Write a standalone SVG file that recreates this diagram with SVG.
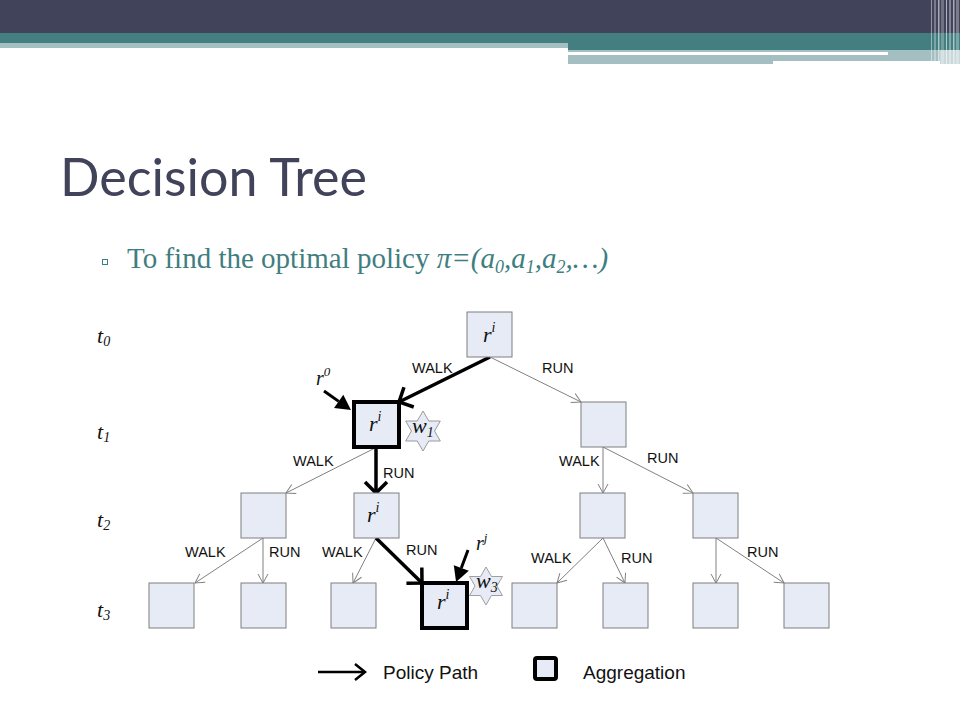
<svg xmlns="http://www.w3.org/2000/svg" width="960" height="720" viewBox="0 0 960 720">
<style>
.box{fill:#e6ebf5;stroke:#7f7f7f;stroke-width:1}
.bold{fill:#e6ebf5;stroke:#000;stroke-width:4}
.thin{stroke:#808080;stroke-width:1;fill:none;marker-end:url(#ah)}
.thick{stroke:#000;stroke-width:3.5;fill:none;marker-end:url(#bh)}
.ptr{stroke:#000;stroke-width:3;fill:none;marker-end:url(#fh)}
.lbl{font-family:"Liberation Sans",Arial,sans-serif;font-size:14.5px;fill:#111}
.math{font-family:"Liberation Serif","Times New Roman",serif;font-style:italic;fill:#111}
.star{fill:#e6ebf5;stroke:#9a9a9a;stroke-width:1}
.leg{font-family:"Liberation Sans",Arial,sans-serif;font-size:19px;fill:#111}
.stl{fill:#ffffff}
</style>
<defs>
<marker id="ah" markerUnits="userSpaceOnUse" viewBox="-12 -8 14 16" refX="0" refY="0" markerWidth="14" markerHeight="16" orient="auto" overflow="visible"><path d="M-9,-5 L0,0 L-9,5" fill="none" stroke="#808080" stroke-width="1"/></marker>
<marker id="bh" markerUnits="userSpaceOnUse" viewBox="-14 -14 16 28" refX="0" refY="0" markerWidth="16" markerHeight="28" orient="auto" overflow="visible"><path d="M-11,-11 L0,0 L-11,11" fill="none" stroke="#000" stroke-width="3.5"/></marker>
<marker id="fh" markerUnits="userSpaceOnUse" viewBox="0 -8 16 16" refX="0" refY="0" markerWidth="16" markerHeight="16" orient="auto" overflow="visible"><path d="M0,-8 L15,0 L0,8 Z" fill="#000"/></marker>
<marker id="lh" markerUnits="userSpaceOnUse" viewBox="-12 -10 14 20" refX="0" refY="0" markerWidth="14" markerHeight="20" orient="auto" overflow="visible"><path d="M-10,-8 L0,0 L-10,8" fill="none" stroke="#000" stroke-width="2.5"/></marker>
<path id="hex" d="M0,-20 L5.77,-10 L17.32,-10 L11.55,0 L17.32,10 L5.77,10 L0,20 L-5.77,10 L-17.32,10 L-11.55,0 L-17.32,-10 L-5.77,-10 Z"/>
</defs>
<rect width="960" height="720" fill="#fff"/>
<g id="banner">
<rect x="0" y="0" width="960" height="33" fill="#41435a"/>
<rect x="0" y="33" width="568" height="10" fill="#437e80"/>
<rect x="0" y="43" width="568" height="5" fill="#a4bfc2"/>
<rect x="568" y="33" width="392" height="17" fill="#437e80"/>
<rect x="568" y="50" width="205" height="14" fill="#a4bfc2"/>
<rect x="773" y="50" width="187" height="11" fill="#a4bfc2"/>
<rect x="568" y="52" width="320" height="3" fill="#ffffff"/>
<rect x="940" y="50" width="20" height="14" fill="#c9d8da"/>
<rect class="stl" x="931" y="0" width="1" height="64" opacity="0.45"/>
<rect class="stl" x="934" y="0" width="2" height="64" opacity="0.3"/>
<rect class="stl" x="938" y="0" width="1.5" height="64" opacity="0.55"/>
<rect class="stl" x="941" y="0" width="3" height="64" opacity="0.25"/>
<rect class="stl" x="946" y="0" width="1" height="64" opacity="0.6"/>
<rect class="stl" x="949" y="0" width="2" height="64" opacity="0.35"/>
<rect class="stl" x="953" y="0" width="1.5" height="64" opacity="0.55"/>
<rect class="stl" x="956" y="0" width="3" height="64" opacity="0.3"/>
</g>
<g id="title"><text x="60" y="196" font-family="Lato,'Open Sans',sans-serif" font-size="52" fill="#41435a">Decision Tree</text></g>
<g id="subtitle">
<rect x="102.5" y="259.5" width="5" height="5" fill="none" stroke="#3f7e80" stroke-width="1"/>
<text x="127" y="268" font-family="'Liberation Serif','Times New Roman',serif" font-size="29" fill="#3f7e80">To find the optimal policy <tspan font-style="italic">π=(a</tspan><tspan font-style="italic" font-size="18" dy="5">0</tspan><tspan font-style="italic" dy="-5">,a</tspan><tspan font-style="italic" font-size="18" dy="5">1</tspan><tspan font-style="italic" dy="-5">,a</tspan><tspan font-style="italic" font-size="18" dy="5">2</tspan><tspan font-style="italic" dy="-5">,…)</tspan></text>
</g>
<g id="time-labels" class="math" font-size="22">
<text x="97" y="343">t<tspan font-size="14" dy="3">0</tspan></text>
<text x="97" y="439">t<tspan font-size="14" dy="3">1</tspan></text>
<text x="97" y="527">t<tspan font-size="14" dy="3">2</tspan></text>
<text x="97" y="617">t<tspan font-size="14" dy="3">3</tspan></text>
</g>
<g id="connectors">
<line class="thick" x1="490" y1="357" x2="399" y2="402"/>
<line class="thin" x1="490" y1="357" x2="581" y2="402"/>
<line class="thin" x1="375" y1="448" x2="286" y2="493"/>
<line class="thick" x1="376" y1="448" x2="376" y2="493"/>
<line class="thin" x1="603" y1="447" x2="603" y2="493"/>
<line class="thin" x1="603" y1="447" x2="693" y2="493"/>
<line class="thin" x1="263" y1="538" x2="195" y2="583"/>
<line class="thin" x1="263" y1="538" x2="263" y2="583"/>
<line class="thin" x1="376" y1="538" x2="353" y2="583"/>
<line class="thick" x1="376" y1="538" x2="422" y2="583"/>
<line class="thin" x1="603" y1="538" x2="557" y2="583"/>
<line class="thin" x1="603" y1="538" x2="625" y2="583"/>
<line class="thin" x1="716" y1="538" x2="716" y2="583"/>
<line class="thin" x1="716" y1="538" x2="784" y2="583"/>
<line class="ptr" x1="324" y1="391" x2="338.7" y2="401.4"/>
<line class="ptr" x1="468" y1="550" x2="461.3" y2="568"/>
</g>
<g id="edge-labels" class="lbl">
<text x="412" y="373">WALK</text>
<text x="542" y="373">RUN</text>
<text x="293" y="466">WALK</text>
<text x="383" y="478">RUN</text>
<text x="559" y="466">WALK</text>
<text x="647" y="463">RUN</text>
<text x="185" y="557">WALK</text>
<text x="269" y="557">RUN</text>
<text x="322" y="557">WALK</text>
<text x="406" y="555">RUN</text>
<text x="531" y="563">WALK</text>
<text x="621" y="563">RUN</text>
<text x="747" y="557">RUN</text>
</g>
<g id="n0"><rect class="box" x="467" y="312" width="45" height="45"/><text class="math" x="483" y="342" font-size="22">r<tspan font-size="14" dy="-10">i</tspan></text></g>
<g id="n1"><rect class="bold" x="354" y="402" width="45" height="45"/><text class="math" x="369" y="431" font-size="22">r<tspan font-size="14" dy="-10">i</tspan></text></g>
<g id="n2"><rect class="box" x="581" y="402" width="45" height="45"/></g>
<g id="n3"><rect class="box" x="241" y="493" width="45" height="45"/></g>
<g id="n4"><rect class="box" x="354" y="493" width="45" height="45"/><text class="math" x="367" y="522" font-size="22">r<tspan font-size="14" dy="-10">i</tspan></text></g>
<g id="n5"><rect class="box" x="580" y="493" width="45" height="45"/></g>
<g id="n6"><rect class="box" x="693" y="493" width="45" height="45"/></g>
<g id="n7"><rect class="box" x="149" y="583" width="45" height="45"/></g>
<g id="n8"><rect class="box" x="241" y="583" width="45" height="45"/></g>
<g id="n9"><rect class="box" x="331" y="583" width="45" height="45"/></g>
<g id="n10"><rect class="bold" x="422" y="583" width="45" height="45"/><text class="math" x="437" y="609" font-size="22">r<tspan font-size="14" dy="-10">i</tspan></text></g>
<g id="n11"><rect class="box" x="512" y="583" width="45" height="45"/></g>
<g id="n12"><rect class="box" x="603" y="583" width="45" height="45"/></g>
<g id="n13"><rect class="box" x="693" y="583" width="45" height="45"/></g>
<g id="n14"><rect class="box" x="784" y="583" width="45" height="45"/></g>
<g id="w1"><use href="#hex" class="star" transform="translate(423,431)"/><text class="math" x="412" y="433" font-size="22">w<tspan font-size="14" dy="4">1</tspan></text></g>
<g id="w3"><use href="#hex" class="star" transform="translate(486,586) scale(0.95)"/><text class="math" x="476" y="588" font-size="22">w<tspan font-size="14" dy="4">3</tspan></text></g>
<g id="r0"><text class="math" x="316" y="385" font-size="20">r<tspan font-size="13" dy="-9">0</tspan></text></g>
<g id="rj"><text class="math" x="476" y="550" font-size="20">r<tspan font-size="13" dy="-8">j</tspan></text></g>
<g id="legend">
<line x1="318" y1="672" x2="365" y2="672" stroke="#000" stroke-width="2.5" marker-end="url(#lh)"/>
<text class="leg" x="383" y="679">Policy Path</text>
<rect x="535" y="658" width="21" height="21" rx="2" fill="#e6ebf5" stroke="#000" stroke-width="4"/>
<text class="leg" x="583" y="679">Aggregation</text>
</g>
</svg>
